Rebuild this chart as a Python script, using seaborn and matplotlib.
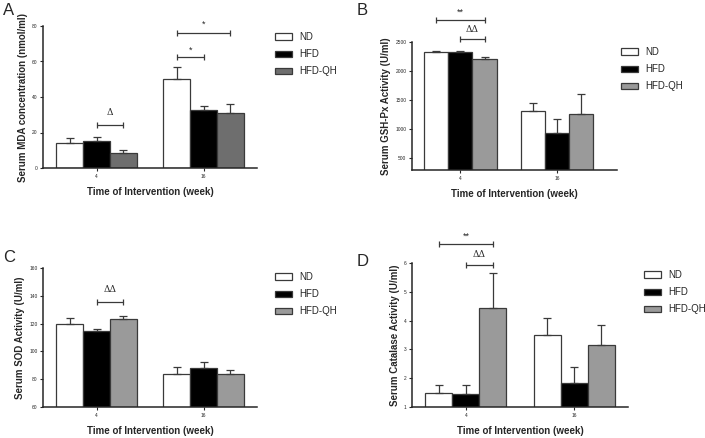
import numpy as np
import pandas as pd
import matplotlib.pyplot as plt
import seaborn as sns

sns.set_style("ticks")
plt.rcParams['font.family'] = ['Liberation Sans', 'DejaVu Sans']

weeks = ['4', '16']
groups = ['ND', 'HFD', 'HFD-QH']

# panel A - MDA
mda_mean = {'ND': [14.0, 50.0], 'HFD': [15.2, 32.8], 'HFD-QH': [8.4, 30.9]}
mda_err = {'ND': [2.9, 7.1], 'HFD': [2.2, 2.4], 'HFD-QH': [1.9, 5.1]}
# panel B - GSH-Px
gsh_mean = {'ND': [2329, 1317], 'HFD': [2330, 929], 'HFD-QH': [2214, 1260]}
gsh_err = {'ND': [17, 143], 'HFD': [15, 245], 'HFD-QH': [29, 354]}
# panel C - SOD
sod_mean = {'ND': [119.9, 83.4], 'HFD': [114.9, 87.7], 'HFD-QH': [123.5, 84.1]}
sod_err = {'ND': [4.3, 5.7], 'HFD': [1.4, 5.0], 'HFD-QH': [1.9, 2.2]}
# panel D - catalase
cat_mean = {'ND': [1.49, 3.50], 'HFD': [1.45, 1.84], 'HFD-QH': [4.43, 3.17]}
cat_err = {'ND': [0.29, 0.60], 'HFD': [0.33, 0.56], 'HFD-QH': [1.22, 0.66]}

# significance brackets: (week idx, group from, group to, bracket y, text, text y)
mda_sig = [(0, 'HFD', 'HFD-QH', 24.3, 'Δ', 31.0),
           (1, 'ND', 'HFD', 62.7, '*', 66.5),
           (1, 'ND', 'HFD-QH', 76.2, '*', 81.0)]
gsh_sig = [(0, 'ND', 'HFD-QH', 2871, '**', 3010),
           (0, 'HFD', 'HFD-QH', 2546, 'ΔΔ', 2720)]
sod_sig = [(0, 'HFD', 'HFD-QH', 135.4, 'ΔΔ', 144.5)]
cat_sig = [(0, 'ND', 'HFD-QH', 6.67, '**', 6.93),
           (0, 'HFD', 'HFD-QH', 5.92, 'ΔΔ', 6.29)]


def panel(fig, rect, mean, err, sig, ylabel, ylim, yticks, xlim, qh_color,
          letter, letter_xy, leg_xy):
    ax = fig.add_axes(rect)
    df = pd.DataFrame([(w, g, mean[g][i]) for g in groups for i, w in enumerate(weeks)],
                      columns=['week', 'group', 'value'])
    pal = {'ND': 'white', 'HFD': 'black', 'HFD-QH': qh_color}
    sns.barplot(data=df, x='week', y='value', hue='group', order=weeks, hue_order=groups,
                palette=pal, width=0.75, errorbar=None, edgecolor='#3a3a3a',
                linewidth=0.9, saturation=1, ax=ax)
    centers = {}
    for g, cont in zip(groups, ax.containers):
        xs = [b.get_x() + b.get_width() / 2 for b in cont]
        tops = [b.get_height() for b in cont]
        centers[g] = xs
        ax.errorbar(xs, tops, yerr=[np.zeros(2), err[g]], fmt='none', ecolor='#3a3a3a',
                    elinewidth=0.9, capsize=3, capthick=0.9, zorder=1)
    for wi, g1, g2, yb, txt, yt in sig:
        x1, x2 = centers[g1][wi], centers[g2][wi]
        ax.plot([x1, x2], [yb, yb], color='#3a3a3a', lw=0.9, marker='|', ms=5,
                mew=0.9, clip_on=False)
        ax.text((x1 + x2) / 2, yt, txt, ha='center', va='center', fontsize=6.5,
                family=['DejaVu Serif'] if 'Δ' in txt else None, clip_on=False)
    ax.set_ylim(*ylim)
    ax.set_yticks(yticks)
    ax.set_xlim(*xlim)
    sns.despine(ax=ax)
    for s in ['left', 'bottom']:
        ax.spines[s].set_linewidth(1.1)
    ax.tick_params(labelsize=3.5, length=2.5, width=0.8, pad=1.5)
    ax.set_xlabel('Time of Intervention (week)', fontsize=7, fontweight='bold', labelpad=6)
    ax.set_ylabel(ylabel, fontsize=7, fontweight='bold', labelpad=3)
    h, l = ax.get_legend_handles_labels()
    ax.legend(h, l, loc='upper left', bbox_to_anchor=leg_xy, bbox_transform=fig.transFigure,
              frameon=False, fontsize=7, handlelength=1.8, handleheight=0.6,
              labelspacing=0.75, handletextpad=0.7, borderaxespad=0)
    fig.text(letter_xy[0], letter_xy[1], letter, fontsize=12, va='top', ha='left')
    return ax


W, H = 705, 438
fig = plt.figure(figsize=(W / 100, H / 100), dpi=100)


def r(l, t, rr, b):
    return [l / W, 1 - b / H, (rr - l) / W, (b - t) / H]


panel(fig, r(43, 26, 257, 168), mda_mean, mda_err, mda_sig,
      'Serum MDA concentration (nmol/ml)', (0, 80), [0, 20, 40, 60, 80], (-0.5, 1.5),
      '#6e6e6e', 'A', (3 / W, 1 - 3 / H), (271 / W, 1 - 28 / H))
panel(fig, r(412, 42, 617, 170), gsh_mean, gsh_err, gsh_sig,
      'Serum GSH-Px Activity (U/ml)', (300, 2500), [500, 1000, 1500, 2000, 2500],
      (-0.5, 1.62), '#9a9a9a', 'B', (357 / W, 1 - 3 / H), (617 / W, 1 - 43 / H))
panel(fig, r(43, 268, 257, 407), sod_mean, sod_err, sod_sig,
      'Serum SOD Activity (U/ml)', (60, 160), [60, 80, 100, 120, 140, 160], (-0.5, 1.5),
      '#9a9a9a', 'C', (3 / W, 1 - 250 / H), (271 / W, 1 - 268 / H))
panel(fig, r(412, 263, 628, 407), cat_mean, cat_err, cat_sig,
      'Serum Catalase Activity (U/ml)', (1, 6), [1, 2, 3, 4, 5, 6], (-0.5, 1.5),
      '#9a9a9a', 'D', (357 / W, 1 - 254 / H), (640 / W, 1 - 266 / H))

fig.savefig('out.png', dpi=100)
